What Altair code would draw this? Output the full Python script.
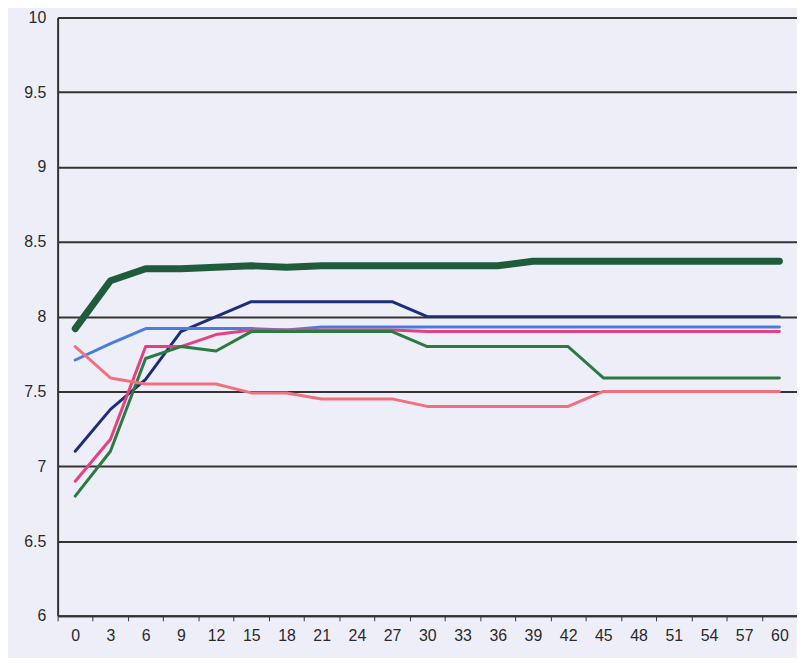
import altair as alt
import pandas as pd

minutes = [0, 3, 6, 9, 12, 15, 18, 21, 24, 27, 30, 33, 36, 39, 42, 45, 48, 51, 54, 57, 60]

thick_green = [7.92, 8.24, 8.32, 8.32, 8.33, 8.34, 8.33, 8.34, 8.34, 8.34, 8.34, 8.34, 8.34, 8.37, 8.37, 8.37, 8.37, 8.37, 8.37, 8.37, 8.37]
navy = [7.10, 7.38, 7.58, 7.90, 8.00, 8.10, 8.10, 8.10, 8.10, 8.10, 8.00, 8.00, 8.00, 8.00, 8.00, 8.00, 8.00, 8.00, 8.00, 8.00, 8.00]
blue = [7.71, 7.82, 7.92, 7.92, 7.92, 7.92, 7.91, 7.93, 7.93, 7.93, 7.93, 7.93, 7.93, 7.93, 7.93, 7.93, 7.93, 7.93, 7.93, 7.93, 7.93]
magenta = [6.90, 7.18, 7.80, 7.80, 7.88, 7.91, 7.91, 7.91, 7.91, 7.91, 7.90, 7.90, 7.90, 7.90, 7.90, 7.90, 7.90, 7.90, 7.90, 7.90, 7.90]
green = [6.80, 7.10, 7.72, 7.80, 7.77, 7.90, 7.90, 7.90, 7.90, 7.90, 7.80, 7.80, 7.80, 7.80, 7.80, 7.59, 7.59, 7.59, 7.59, 7.59, 7.59]
salmon = [7.80, 7.59, 7.55, 7.55, 7.55, 7.49, 7.49, 7.45, 7.45, 7.45, 7.40, 7.40, 7.40, 7.40, 7.40, 7.50, 7.50, 7.50, 7.50, 7.50, 7.50]

series_names = ["A", "B", "C", "D", "E", "F"]
series_values = [thick_green, navy, blue, magenta, green, salmon]
series_colors = ["#1f5c3c", "#1c2e7a", "#4a7de0", "#e8407f", "#2a7a42", "#f07080"]
series_widths = [7, 3, 3, 3, 3, 3]
y_ticks = [6, 6.5, 7, 7.5, 8, 8.5, 9, 9.5, 10]

rows = []
for name, vals, w in zip(series_names, series_values, series_widths):
    for m, v in zip(minutes, vals):
        rows.append({"minute": m, "value": v, "series": name, "w": w})
df = pd.DataFrame(rows)

x_enc = alt.X(
    "minute:O",
    sort=minutes,
    scale=alt.Scale(type="band", paddingInner=0, paddingOuter=0),
    axis=alt.Axis(
        title=None, labelAngle=0, labelFontSize=16, labelColor="#2a2a2a",
        labelFont="Liberation Sans", labelPadding=7, tickBand="extent",
        tickSize=5, tickColor="#333333", domainColor="#333333", domainWidth=2,
        grid=False,
    ),
)
y_enc = alt.Y(
    "value:Q",
    scale=alt.Scale(domain=[6, 10], nice=False, zero=False),
    axis=alt.Axis(
        title=None, values=y_ticks, labelFontSize=16, labelColor="#2a2a2a",
        labelFont="Liberation Sans", labelPadding=12, ticks=False,
        domainColor="#333333", domainWidth=2, grid=True, gridColor="#333333",
        gridWidth=2, labelExpr="datum.value",
    ),
)

chart = (
    alt.Chart(df)
    .mark_line(strokeCap="round", strokeJoin="round")
    .encode(
        x=x_enc,
        y=y_enc,
        color=alt.Color("series:N", scale=alt.Scale(domain=series_names, range=series_colors), legend=None),
        strokeWidth=alt.StrokeWidth("w:Q", scale=None),
        detail="series:N",
    )
    .properties(
        width=745, height=603,
        background="#eeeef8",
        padding={"left": 50, "top": 7, "right": 0, "bottom": 40},
        autosize=alt.AutoSizeParams(type="none"),
    )
    .configure_view(stroke=None, fill="#eeeef8")
)

chart.save("out.html", embed_options={"renderer": "svg", "actions": False})
